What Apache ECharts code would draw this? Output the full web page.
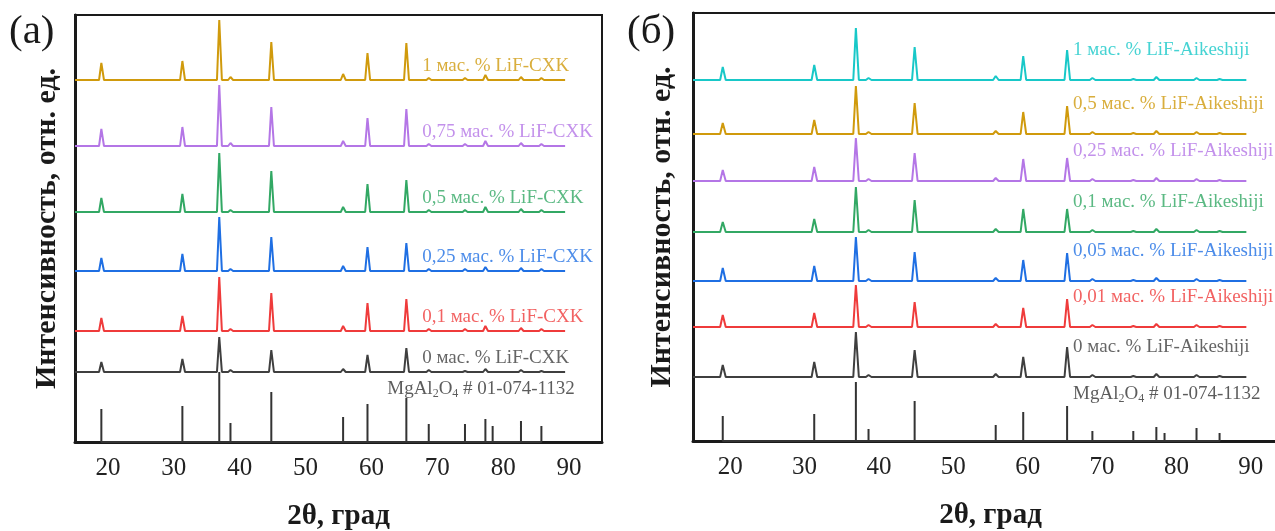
<!DOCTYPE html>
<html>
<head>
<meta charset="utf-8">
<script src="https://cdn.jsdelivr.net/npm/echarts@6/dist/echarts.min.js"></script>
<style>
  html, body { margin: 0; padding: 0; background: #fff; }
  #chart { width: 1275px; height: 531px; }
</style>
</head>
<body>
<div id="chart"></div>
<script>
// Diffraction peak positions, 2θ (deg)
const peakAngles = [19.0, 31.3, 36.9, 38.6, 44.8, 55.7, 59.4, 65.3, 68.7, 74.2, 77.3, 82.7, 85.8];
// Reference card MgAl2O4 # 01-074-1132 line positions
const refAngles = [19.0, 31.3, 36.9, 38.6, 44.8, 55.7, 59.4, 65.3, 68.7, 74.2, 77.3, 78.4, 82.7, 85.8];
const scanStart = 15;
const scanEnd = 89.4;

// Panel (a): LiF-CXK
const refA = [33, 36, 70, 19, 50, 25, 38, 44, 18, 18, 23, 16, 21, 16];
const cxk0 = [10, 13, 35, 2, 22, 3, 17, 24, 2, 1, 3, 2, 1];
const cxk01 = [13, 15, 54, 2, 38, 5, 28, 32, 2, 2, 5, 3, 2];
const cxk025 = [13, 17, 54, 2, 34, 5, 24, 28, 2, 2, 4, 3, 2];
const cxk05 = [14, 18, 59, 2, 41, 5, 28, 32, 2, 2, 5, 3, 2];
const cxk075 = [17, 19, 61, 3, 39, 5, 28, 37, 2, 2, 5, 3, 2];
const cxk1 = [17, 19, 60, 3, 38, 6, 27, 37, 2, 2, 5, 3, 2];
const labelsA = ['0 мас. % LiF-CXK', '0,1 мас. % LiF-CXK', '0,25 мас. % LiF-CXK',
                 '0,5 мас. % LiF-CXK', '0,75 мас. % LiF-CXK', '1 мас. % LiF-CXK'];
const offsetsA = [70, 111, 171, 230, 296, 362];

// Panel (б): LiF-Aikeshiji
const refB = [25, 27, 59, 12, 40, 16, 29, 35, 10, 10, 14, 8, 13, 8];
const aik0 = [12, 15, 45, 2, 27, 3, 20, 30, 2, 1, 3, 2, 1];
const aik001 = [12, 14, 42, 2, 25, 3, 19, 28, 2, 1, 3, 2, 1];
const aik005 = [13, 15, 44, 2, 29, 3, 21, 28, 2, 1, 3, 2, 1];
const aik01 = [10, 13, 45, 2, 32, 3, 23, 23, 2, 1, 3, 2, 1];
const aik025 = [11, 14, 43, 2, 28, 3, 22, 23, 2, 1, 3, 2, 1];
const aik05 = [11, 14, 48, 2, 31, 3, 22, 28, 2, 1, 3, 2, 1];
const aik1 = [13, 15, 52, 2, 33, 4, 24, 30, 2, 1, 3, 2, 1];
const labelsB = ['0 мас. % LiF-Aikeshiji', '0,01 мас. % LiF-Aikeshiji', '0,05 мас. % LiF-Aikeshiji',
                 '0,1 мас. % LiF-Aikeshiji', '0,25 мас. % LiF-Aikeshiji', '0,5 мас. % LiF-Aikeshiji',
                 '1 мас. % LiF-Aikeshiji'];
const offsetsB = [64, 114, 160, 209, 260, 307, 361];

const refLabel = 'MgAl{s|2}O{s|4} # 01-074-1132';
const xTicks = [20, 30, 40, 50, 60, 70, 80, 90];

const colorsA = ['#3f3f3f', '#ef3b3b', '#1f6fe3', '#32a864', '#b476e6', '#d09a0c'];
const colorsB = ['#3f3f3f', '#ef3b3b', '#1f6fe3', '#32a864', '#b476e6', '#d09a0c', '#18c8c8'];
const FONT = '"Liberation Serif", "Times New Roman", serif';

// Pattern line: flat background with a sharp profile at every peak
// (vertices kept > 2 px apart so the polyline keeps every one of them)
function pattern(heights, offset) {
  const pts = [[scanStart, offset]];
  peakAngles.forEach((a, i) => {
    pts.push([a - 0.35, offset]);
    pts.push([a, offset + heights[i]]);
    pts.push([a + 0.4, offset]);
  });
  pts.push([scanEnd, offset]);
  return pts;
}
// Reference card drawn as vertical sticks from the axis
function sticks(heights) {
  const pts = [];
  refAngles.forEach((a, i) => {
    pts.push([a, 0], [a, heights[i]], [a, 0]);
  });
  return pts;
}

function lineSeries(idx, data, color, width) {
  return {
    type: 'line', xAxisIndex: idx, yAxisIndex: idx, data: data,
    showSymbol: false, symbol: 'none', silent: true,
    lineStyle: { color: color, width: width }, z: 3
  };
}
function textSeries(idx, x, y, text, color, size) {
  return {
    type: 'scatter', xAxisIndex: idx, yAxisIndex: idx, data: [[x, y]],
    symbolSize: 0, silent: true, z: 5,
    label: {
      show: true, position: 'right', distance: 0, formatter: text,
      color: color, fontFamily: FONT, fontSize: size,
      rich: { s: { fontFamily: FONT, fontSize: Math.round(size * 0.62), color: color, padding: [10, 0, 0, 0] } }
    }
  };
}

const series = [];
// panel (a)
series.push(lineSeries(0, sticks(refA), '#333', 2));
[cxk0, cxk01, cxk025, cxk05, cxk075, cxk1].forEach((d, i) => {
  series.push(lineSeries(0, pattern(d, offsetsA[i]), colorsA[i], 2));
  series.push(textSeries(0, 67.7, offsetsA[i] + 14, labelsA[i], colorsA[i], 19));
});
series.push(textSeries(0, 62.4, 53, refLabel, '#333', 19));
// panel (б)
series.push(lineSeries(1, sticks(refB), '#333', 2));
[aik0, aik001, aik005, aik01, aik025, aik05, aik1].forEach((d, i) => {
  series.push(lineSeries(1, pattern(d, offsetsB[i]), colorsB[i], 2));
  series.push(textSeries(1, 66.1, offsetsB[i] + 30, labelsB[i], colorsB[i], 19));
});
series.push(textSeries(1, 66.1, 47, refLabel, '#333', 19));

function xAxis(idx) {
  return {
    type: 'value', gridIndex: idx, min: 15, max: 95, interval: 5,
    axisLine: { show: true, lineStyle: { color: '#1a1a1a', width: 3 } },
    axisTick: { show: false }, splitLine: { show: false },
    axisLabel: {
      fontFamily: FONT, fontSize: 25, color: '#222', margin: 14,
      formatter: v => (xTicks.indexOf(v) >= 0 ? String(v) : '')
    },
    name: '2θ, град', nameLocation: 'middle', nameGap: 60,
    nameTextStyle: { fontFamily: FONT, fontSize: 29, fontWeight: 'bold', color: '#1a1a1a' }
  };
}
function yAxis(idx, max, gap) {
  return {
    type: 'value', gridIndex: idx, min: 0, max: max,
    axisLine: { show: true, lineStyle: { color: '#1a1a1a', width: 3 } },
    axisTick: { show: false }, axisLabel: { show: false }, splitLine: { show: false },
    name: 'Интенсивность, отн. ед.', nameLocation: 'middle', nameGap: gap, nameRotate: 90,
    nameTextStyle: { fontFamily: FONT, fontSize: 30, fontWeight: 'bold', color: '#1a1a1a' }
  };
}

const chart = echarts.init(document.getElementById('chart'), null, { renderer: 'canvas' });
chart.setOption({
  animation: false,
  backgroundColor: '#fff',
  grid: [
    { left: 75, top: 15, width: 527, height: 427, show: true, borderColor: '#1a1a1a', borderWidth: 2,
      outerBoundsMode: 'none' },
    // the right frame runs on past the page edge
    { left: 693, top: 13, width: 595, height: 428, show: true, borderColor: '#1a1a1a', borderWidth: 2,
      outerBoundsMode: 'none' }
  ],
  xAxis: [xAxis(0), xAxis(1)],
  yAxis: [yAxis(0, 427, 13), yAxis(1, 428, 16)],
  graphic: [
    { type: 'text', left: 9, top: 12, style: { text: '(a)', font: '41px ' + FONT, fill: '#1a1a1a' } },
    { type: 'text', left: 627, top: 12, style: { text: '(б)', font: '41px ' + FONT, fill: '#1a1a1a' } }
  ],
  series: series
});
</script>
</body>
</html>
